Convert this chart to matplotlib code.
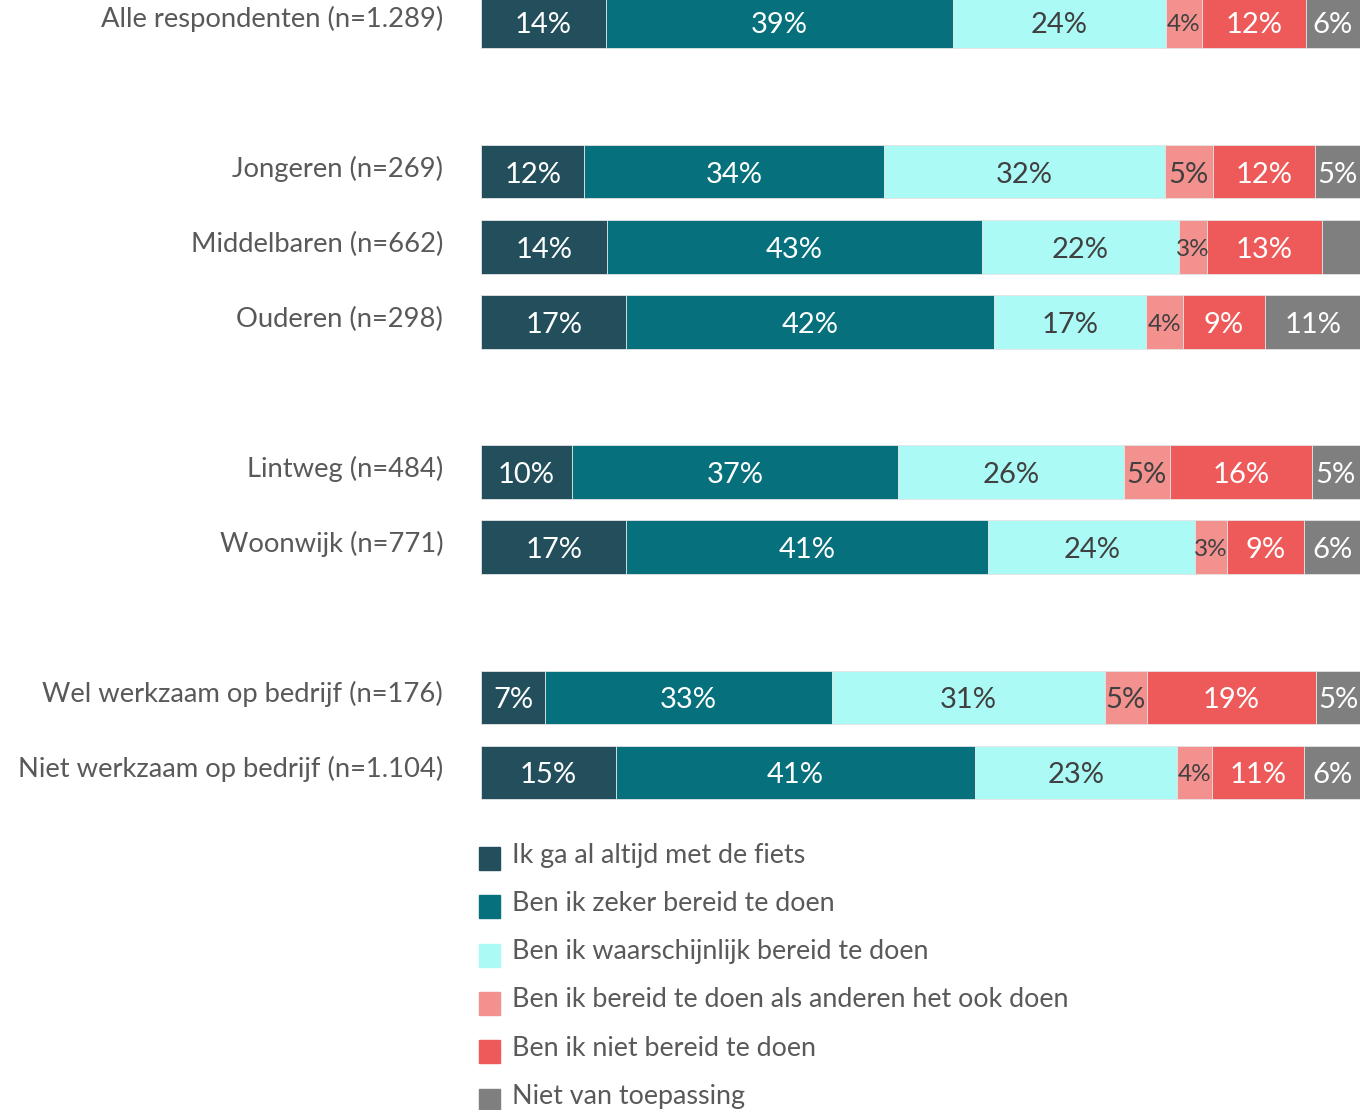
import matplotlib
matplotlib.use("Agg")
import matplotlib.pyplot as plt
from matplotlib.patches import Rectangle

plt.rcParams['font.family'] = ['Lato', 'DejaVu Sans']

groups = ['Alle respondenten (n=1.289)',
          'Jongeren (n=269)', 'Middelbaren (n=662)', 'Ouderen (n=298)',
          'Lintweg (n=484)', 'Woonwijk (n=771)',
          'Wel werkzaam op bedrijf (n=176)', 'Niet werkzaam op bedrijf (n=1.104)']
# slot index of each row (empty slots separate the blocks)
rows = [0, 2, 3, 4, 6, 7, 9, 10]

series_names = ['Ik ga al altijd met de fiets',
                'Ben ik zeker bereid te doen',
                'Ben ik waarschijnlijk bereid te doen',
                'Ben ik bereid te doen als anderen het ook doen',
                'Ben ik niet bereid te doen',
                'Niet van toepassing']

# segment widths (%)
altijd = [14.2, 11.75, 14.33, 16.53, 10.35, 16.53, 7.32, 15.32]
zeker = [39.5, 34.06, 42.66, 41.8, 37.12, 41.18, 32.62, 40.91]
waarschijnlijk = [24.2, 32.0, 22.45, 17.29, 25.64, 23.55, 31.06, 22.95]
als_anderen = [4.1, 5.43, 3.12, 4.21, 5.23, 3.57, 4.74, 3.98]
niet = [11.8, 11.64, 13.15, 9.4, 16.19, 8.83, 19.26, 10.5]
nvt = [6.2, 5.12, 4.29, 10.77, 5.46, 6.34, 5.0, 6.34]

# printed labels
lab_altijd = ['14%', '12%', '14%', '17%', '10%', '17%', '7%', '15%']
lab_zeker = ['39%', '34%', '43%', '42%', '37%', '41%', '33%', '41%']
lab_waarsch = ['24%', '32%', '22%', '17%', '26%', '24%', '31%', '23%']
lab_anderen = ['4%', '5%', '3%', '4%', '5%', '3%', '5%', '4%']
lab_niet = ['12%', '12%', '13%', '9%', '16%', '9%', '19%', '11%']
lab_nvt = ['6%', '5%', '', '11%', '5%', '6%', '5%', '6%']

colors = ['#234f5d', '#06707c', '#abfaf6', '#f3918f', '#ee5a5a', '#7f7f7f']
text_colors = ['white', 'white', '#404040', '#404040', 'white', 'white']

values = [altijd, zeker, waarschijnlijk, als_anderen, niet, nvt]
labels = [lab_altijd, lab_zeker, lab_waarsch, lab_anderen, lab_niet, lab_nvt]

W, H = 1367, 1110
fig = plt.figure(figsize=(W / 100, H / 100), dpi=100)
ax = fig.add_axes([481 / W, 1 - 800 / H, 879 / W, 800 / H])

left = [0.0] * len(rows)
for vals, labs, c, tc in zip(values, labels, colors, text_colors):
    ax.barh(rows, vals, left=left, height=0.707, color=c,
            edgecolor='#e4e4e4', linewidth=0.6)
    for r, v, lb, l0 in zip(rows, vals, labs, left):
        if lb:
            fs = 17.5 if lb in ('3%', '4%') else 21
            ax.text(l0 + v / 2, r + 0.035, lb, ha='center', va='center',
                    color=tc, fontsize=fs)
    left = [a + b for a, b in zip(left, vals)]

ax.set_xlim(0, sum(v[0] for v in values))
ax.set_ylim(10.373, -0.293)
ax.set_yticks([])
for r, g in zip(rows, groups):
    ax.text(-0.043, r - 0.04, g, transform=ax.get_yaxis_transform(),
            ha='right', va='center', fontsize=19.7, color='#595959')
ax.set_xticks([])
for s in ax.spines.values():
    s.set_visible(False)

# legend, drawn by hand as a column below the bars
for i, (name, c) in enumerate(zip(series_names, colors)):
    yc = 858 + i * 48.3
    fig.patches.append(Rectangle((479 / W, 1 - (yc + 12) / H), 21 / W, 23 / H,
                                 transform=fig.transFigure, color=c))
    fig.text(512 / W, 1 - (yc - 3) / H, name, ha='left', va='center',
             fontsize=19.4, color='#595959')

fig.savefig('out.png', dpi=100)
